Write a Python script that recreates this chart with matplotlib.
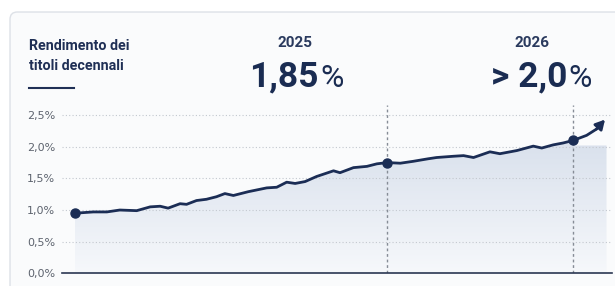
import numpy as np
import matplotlib.pyplot as plt
from matplotlib.patches import FancyBboxPatch, Polygon
from matplotlib.lines import Line2D
from matplotlib.colors import LinearSegmentedColormap

# asse del tempo: 0 = inizio serie, 100 = 2026 ; rendimento in %
t_serie = [0, 3.7, 6.4, 9.0, 12.4, 15.1, 17.1, 18.7, 21.1, 22.4, 24.4, 26.4, 28.4,
           30.1, 31.8, 34.8, 38.5, 40.5, 42.5, 44.2, 46.2, 48.5, 51.9, 53.2, 55.9,
           58.6, 60.6, 62.7, 65.3, 67.9, 70.9, 72.6, 76.0, 78.0, 80.0, 83.3, 85.3,
           88.7, 92.0, 93.7, 96.0, 98.0, 100]
rend_serie = [0.95, 0.97, 0.97, 1.00, 0.99, 1.05, 1.06, 1.03, 1.10, 1.09, 1.15, 1.17, 1.21,
              1.26, 1.23, 1.29, 1.35, 1.36, 1.44, 1.42, 1.45, 1.53, 1.62, 1.59, 1.67,
              1.69, 1.73, 1.75, 1.74, 1.77, 1.81, 1.83, 1.85, 1.86, 1.83, 1.92, 1.89,
              1.94, 2.01, 1.98, 2.03, 2.06, 2.10]
t_freccia = [100, 102.7, 104.7, 106.4]
rend_freccia = [2.10, 2.18, 2.28, 2.43]
t_punti = [0, 62.7, 100]
rend_punti = [0.95, 1.75, 2.10]
t_anni = [62.7, 100]
anni = ['2025', '2026']
valori = ['1,85', '> 2,0']
y_ticks = [0, 0.5, 1.0, 1.5, 2.0, 2.5]
y_labels = ['0,0%', '0,5%', '1,0%', '1,5%', '2,0%', '2,5%']
livello_fill = 2.02
fine_fill = 106.7

NAVY = '#1b2d55'
W, H = 615, 286

def fx(px):
    return px / W

def fy(py):
    return 1 - py / H

fig = plt.figure(figsize=(6.15, 2.86), dpi=100)
fig.patch.set_facecolor('white')

# riquadro di sfondo
card = FancyBboxPatch((fx(10), fy(320)), fx(650), (320 - 12) / H,
                      boxstyle='round,pad=0,rounding_size=0.012', mutation_aspect=2.15,
                      transform=fig.transFigure, facecolor='#fafbfc', edgecolor='#dde1e7',
                      lw=1, zorder=-10)
fig.patches.append(card)

ax = fig.add_axes([fx(62), 1 - 273.3 / H, 550 / W, (273.3 - 105) / H])
ax.set_zorder(2)
ax.set_facecolor('none')
ax.set_xlim(-2.6, 107.8)
ax.set_ylim(0, 2.66)

for s in ['top', 'right', 'left']:
    ax.spines[s].set_visible(False)
ax.spines['bottom'].set_color('#2b3752')
ax.spines['bottom'].set_linewidth(1.2)
ax.spines['bottom'].set_zorder(6)
ax.set_xticks([])
ax.set_yticks(y_ticks)
ax.set_yticklabels(y_labels)
ax.tick_params(axis='y', length=0, pad=5, labelsize=8, labelcolor='#5d636e')

for y in y_ticks[1:]:
    ax.axhline(y, color='#c3c8cf', lw=0.8, ls=(0, (1, 2)), zorder=2)
for t in t_anni:
    ax.axvline(t, color='#868c96', lw=1, ls=(0, (2, 2)), zorder=3)

# area sfumata sotto la linea
vertici = list(zip(t_serie, rend_serie)) + [(100, livello_fill), (fine_fill, livello_fill),
                                           (fine_fill, 0), (0, 0)]
poly = Polygon(vertici, closed=True, facecolor='none', edgecolor='none')
ax.add_patch(poly)
cmap = LinearSegmentedColormap.from_list('sfum', ['#f6f8fb', '#d8e0ec'])
grad = np.linspace(0, 1, 256).reshape(-1, 1)
img = ax.imshow(grad, cmap=cmap, extent=[0, fine_fill, 0, 2.15], origin='lower',
                aspect='auto', zorder=1)
img.set_clip_path(poly)

ax.plot(t_serie, rend_serie, color=NAVY, lw=2, zorder=4, solid_capstyle='round')
ax.plot(t_freccia[:-1], rend_freccia[:-1], color=NAVY, lw=2, zorder=4, solid_capstyle='round')
ax.annotate('', xy=(t_freccia[-1], rend_freccia[-1]), xytext=(t_freccia[-2], rend_freccia[-2]),
            arrowprops=dict(arrowstyle='-|>,head_length=0.55,head_width=0.3', color=NAVY,
                            lw=2, shrinkA=0, shrinkB=0), zorder=4)
ax.plot(t_punti, rend_punti, 'o', ms=6.5, color=NAVY, zorder=5)

# intestazione
fig.text(fx(29), fy(50), 'Rendimento dei', family='Roboto', weight='bold', size=10.3,
         color='#1f2f55', va='baseline')
fig.text(fx(29), fy(70), 'titoli decennali', family='Roboto', weight='bold', size=10.3,
         color='#1f2f55', va='baseline')
fig.add_artist(Line2D([fx(29), fx(74)], [fy(87.5), fy(87.5)], color='#1f2f55', lw=1.5))

x_anni = [295.5, 531.7]
x_split = [319, 567]
for xa, xs, anno, val in zip(x_anni, x_split, anni, valori):
    fig.text(fx(xa), fy(46.7), anno, ha='center', va='baseline', family='Roboto',
             weight='bold', size=11, color='#2a3a5e')
    fig.text(fx(xs), fy(86.7), val, ha='right', va='baseline', family='Roboto',
             weight='bold', size=25.5, color='#1a2c52')
    fig.text(fx(xs + 1), fy(86.7), '%', ha='left', va='baseline', family='Roboto',
             weight='normal', size=23, color='#1a2c52')

fig.savefig('out.png', dpi=100)
